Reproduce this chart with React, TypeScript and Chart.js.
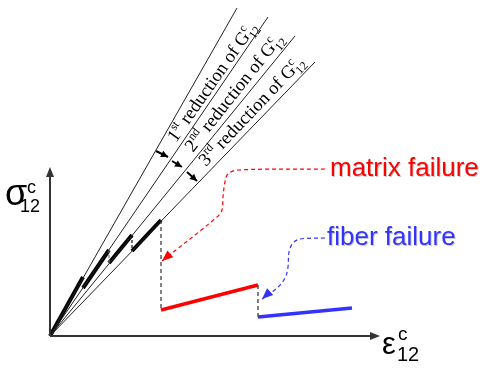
import React, { useEffect, useRef } from "react";
import { Chart, registerables } from "chart.js";
Chart.register(...registerables);

// Schematic units: origin of the stress–strain diagram at (0, 0)
const axisXEnd = 330;
const axisYEnd = 169;

// Secant-stiffness rays (end points)
const rayEndX = [187, 218, 245, 265];
const rayEndY = [328, 319, 300, 274];

// Loading steps along each ray
const stepStartX = [0, 33, 59, 82];
const stepStartY = [0, 48, 73, 85];
const stepEndX = [33, 59, 82, 111];
const stepEndY = [59, 86, 101, 116];

// Post-failure branches
const matrixX = [111, 208];
const matrixY = [26, 51];
const fiberX = [208, 302];
const fiberY = [19, 28];

// Callout paths
const matrixCalloutX = [275, 188, 178, 175, 173, 172, 167, 112];
const matrixCalloutY = [167, 166, 162, 154, 139, 126, 119, 75];
const fiberCalloutX = [275, 250, 243, 239, 238, 235, 227, 212];
const fiberCalloutY = [98, 97, 93, 84, 69, 58, 48, 37];

// Reduction arrows
const redArrowFromX = [106, 122, 137];
const redArrowFromY = [185, 175, 164];
const redArrowToX = [118, 132, 147];
const redArrowToY = [179, 169, 155];

// Labels
const ordinals = ["1", "2", "3"];
const ordinalSuffix = ["st", "nd", "rd"];
const labelAnchorX = [126, 143, 156];
const labelAnchorY = [193, 183, 169];
const labelAngle = [55, 51.5, 46.5];
const matrixText = "matrix failure";
const fiberText = "fiber failure";

const pts = (xs: number[], ys: number[]) => xs.map((x, i) => ({ x, y: ys[i] }));

export default function App() {
  const ref = useRef<HTMLCanvasElement>(null);
  useEffect(() => {
    const datasets: any[] = [];
    const line = (data: any[], color: string, width: number, dash: number[] = [], tension = 0) =>
      datasets.push({
        data,
        borderColor: color,
        borderWidth: width,
        borderDash: dash,
        pointRadius: 0,
        tension,
        fill: false,
        borderCapStyle: "butt",
      });
    // axes
    line([{ x: 0, y: 0 }, { x: axisXEnd - 6, y: 0 }], "#333333", 2);
    line([{ x: 0, y: 0 }, { x: 0, y: axisYEnd - 6 }], "#333333", 2);
    // rays
    rayEndX.forEach((x, i) => line([{ x: 0, y: 0 }, { x, y: rayEndY[i] }], "#222222", 1));
    // drops
    line([{ x: stepEndX[1], y: stepEndY[1] }, { x: stepStartX[2], y: stepStartY[2] }], "#777777", 1.2, [3, 2]);
    line([{ x: stepEndX[2], y: stepEndY[2] }, { x: stepStartX[3], y: stepStartY[3] }], "#111111", 1.2, [3, 2]);
    line([{ x: stepEndX[3], y: stepEndY[3] }, { x: matrixX[0], y: matrixY[0] }], "#333333", 1.2, [4, 3]);
    line([{ x: matrixX[1], y: matrixY[1] }, { x: fiberX[0], y: fiberY[0] }], "#555555", 1.5, [4, 3]);
    // steps
    stepStartX.forEach((x, i) =>
      line([{ x, y: stepStartY[i] }, { x: stepEndX[i], y: stepEndY[i] }], "#000000", 4)
    );
    line(pts(matrixX, matrixY), "#ff0000", 3.5);
    line(pts(fiberX, fiberY), "#3333ff", 3.5);
    // callouts
    line(pts(matrixCalloutX, matrixCalloutY), "#ff0000", 1.2, [4, 3], 0.35);
    line(pts(fiberCalloutX, fiberCalloutY), "#3333ff", 1.2, [4, 3], 0.35);
    // reduction arrows
    redArrowFromX.forEach((x, i) =>
      line([{ x, y: redArrowFromY[i] }, { x: redArrowToX[i], y: redArrowToY[i] }], "#000000", 2)
    );

    const annot = {
      id: "annot",
      afterDatasetsDraw(chart: any) {
        const ctx = chart.ctx as CanvasRenderingContext2D;
        const X = (v: number) => chart.scales.x.getPixelForValue(v);
        const Y = (v: number) => chart.scales.y.getPixelForValue(v);
        const head = (fx: number, fy: number, tx: number, ty: number, len: number, w: number, color: string) => {
          const x1 = X(fx), y1 = Y(fy), x2 = X(tx), y2 = Y(ty);
          const a = Math.atan2(y2 - y1, x2 - x1);
          ctx.save();
          ctx.translate(x2, y2);
          ctx.rotate(a);
          ctx.fillStyle = color;
          ctx.beginPath();
          ctx.moveTo(0, 0);
          ctx.lineTo(-len, -w / 2);
          ctx.lineTo(-len, w / 2);
          ctx.closePath();
          ctx.fill();
          ctx.restore();
        };
        head(0, 0, axisXEnd, 0, 10, 8, "#333333");
        head(0, 0, 0, axisYEnd, 10, 8, "#333333");
        const n = matrixCalloutX.length;
        head(matrixCalloutX[n - 3], matrixCalloutY[n - 3], matrixCalloutX[n - 1], matrixCalloutY[n - 1], 11, 9, "#ff0000");
        const m = fiberCalloutX.length;
        head(fiberCalloutX[m - 3], fiberCalloutY[m - 3], fiberCalloutX[m - 1], fiberCalloutY[m - 1], 11, 9, "#3333ff");
        redArrowFromX.forEach((x, i) => head(x, redArrowFromY[i], redArrowToX[i], redArrowToY[i], 7, 7, "#000000"));

        // ray labels
        const serif = '"Liberation Serif", "Times New Roman", serif';
        ordinals.forEach((o, i) => {
          ctx.save();
          ctx.translate(X(labelAnchorX[i]), Y(labelAnchorY[i]));
          ctx.rotate((-labelAngle[i] * Math.PI) / 180);
          ctx.fillStyle = "#000000";
          ctx.textBaseline = "alphabetic";
          let x = 0;
          ctx.font = `18.5px ${serif}`;
          ctx.fillText(o, x, 0);
          x += ctx.measureText(o).width;
          ctx.font = `12px ${serif}`;
          ctx.fillText(ordinalSuffix[i], x, -7.5);
          x += ctx.measureText(ordinalSuffix[i]).width;
          ctx.font = `18.5px ${serif}`;
          const body = " reduction of G";
          ctx.fillText(body, x, 0);
          x += ctx.measureText(body).width;
          ctx.font = `12px ${serif}`;
          ctx.fillText("c", x, -7.5);
          ctx.fillText("12", x, 5);
          ctx.restore();
        });

        const sans = '"Liberation Sans", Arial, sans-serif';
        ctx.save();
        ctx.shadowColor = "rgba(0,0,0,0.22)";
        ctx.shadowOffsetX = 1;
        ctx.shadowOffsetY = 1;
        ctx.font = `26px ${sans}`;
        ctx.fillStyle = "#ff0000";
        ctx.fillText(matrixText, X(280), Y(160));
        ctx.fillStyle = "#3333ff";
        ctx.fillText(fiberText, X(277), Y(91));
        ctx.restore();

        // axis symbols
        ctx.save();
        ctx.fillStyle = "#000000";
        const sx = X(-45), sy = Y(131);
        ctx.font = `36px ${sans}`;
        ctx.fillText("σ", sx, sy);
        ctx.font = `18px ${sans}`;
        ctx.fillText("c", sx + 22, sy - 12);
        ctx.font = `18px ${sans}`;
        ctx.fillText("12", sx + 15, sy + 7);
        const ex = X(332), ey = Y(-18);
        ctx.font = `31px ${sans}`;
        ctx.fillText("ε", ex, ey);
        ctx.font = `19px ${sans}`;
        ctx.fillText("c", ex + 16, ey - 14);
        ctx.font = `20px ${sans}`;
        ctx.fillText("12", ex + 15, ey + 7);
        ctx.restore();
      },
    };

    const chart = new Chart(ref.current as HTMLCanvasElement, {
      type: "line",
      data: { datasets },
      options: {
        responsive: false,
        animation: false,
        events: [],
        layout: { padding: 0 },
        plugins: { legend: { display: false }, tooltip: { enabled: false } },
        scales: {
          x: { type: "linear", min: -50, max: 437, display: false },
          y: { type: "linear", min: -33, max: 336, display: false },
        },
      },
      plugins: [annot],
    });
    return () => chart.destroy();
  }, []);
  return (
    <div style={{ position: "fixed", left: 0, top: 0, width: 487, height: 369, background: "#ffffff" }}>
      <canvas ref={ref} width={487} height={369} style={{ display: "block" }} />
    </div>
  );
}
